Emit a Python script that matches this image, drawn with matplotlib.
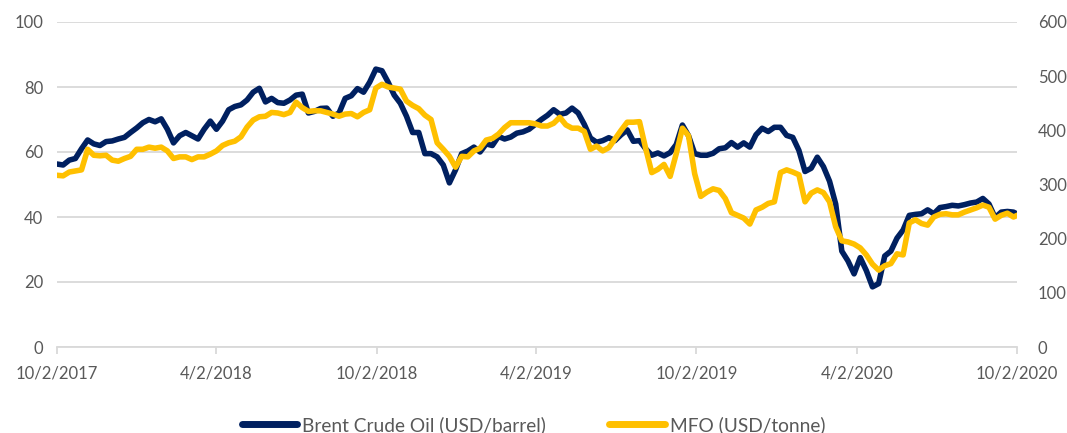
import matplotlib
matplotlib.use("Agg")
import matplotlib.pyplot as plt
import matplotlib.dates as mdates
from matplotlib.lines import Line2D
import pandas as pd

start_date = "2017-10-02"

brent = [56.3, 56, 57.5, 58, 61, 63.7, 62.5, 62, 63.2, 63.4,
         64, 64.5, 66, 67.4, 69, 70, 69.3, 70.2, 67, 62.8,
         65, 66, 65, 64, 67, 69.5, 67, 69.5, 73, 74,
         74.5, 76, 78.4, 79.6, 75.4, 76.5, 75.2, 75, 76, 77.5,
         77.8, 72, 72.5, 73.4, 73.5, 71, 72, 76.5, 77.3, 79.5,
         78.4, 81.5, 85.5, 85, 81.5, 77.5, 75, 71, 66, 66,
         59.5, 59.5, 58.5, 56, 50.5, 54.5, 59.5, 60.3, 61.5, 60,
         62.5, 62, 64.8, 64, 64.6, 65.8, 66.2, 67, 68.5, 70,
         71.3, 73, 71.6, 72, 73.5, 72, 68.5, 64.3, 63, 63.5,
         64.4, 63.5, 65.3, 66.8, 63.3, 63.5, 61, 59, 59.7, 58.8,
         59.8, 62.3, 68.3, 65, 59.5, 59, 59, 59.6, 61, 61.3,
         62.9, 61.5, 62.8, 61.5, 65.3, 67.3, 66.3, 67.6, 67.6, 65.1,
         64.5, 60.5, 54, 55, 58.4, 55.5, 51, 44, 29.5, 26.5,
         22.5, 27.5, 23.5, 18.5, 19.5, 28, 29.5, 33.5, 36, 40.5,
         40.8, 41, 42.2, 41, 42.9, 43.2, 43.6, 43.4, 43.8, 44.3,
         44.6, 45.7, 44, 39.8, 41.5, 41.7, 41.5, 40.5]

mfo = [317, 316, 323, 325, 327, 365, 354, 353, 354, 345,
       343, 348, 352, 365, 365, 369, 367, 369, 362, 348,
       351, 351, 346, 351, 351, 356, 362, 372, 377, 380,
       388, 406, 419, 425, 426, 433, 432, 429, 433, 452,
       442, 435, 436, 436, 433, 430, 426, 430, 431, 425,
       433, 438, 478, 485, 480, 478, 476, 454, 446, 440,
       428, 420, 377, 365, 352, 332, 352, 351, 362, 367,
       382, 385, 393, 405, 414, 414, 414, 414, 412, 408,
       408, 413, 424, 410, 404, 404, 398, 365, 371, 362,
       368, 384, 400, 415, 415, 416, 367, 322, 328, 337,
       315, 357, 404, 390, 320, 278, 286, 292, 289, 274,
       248, 243, 238, 227, 253, 258, 265, 268, 322, 327,
       323, 318, 268, 284, 290, 285, 268, 222, 196, 194,
       190, 183, 170, 153, 142, 150, 154, 172, 170, 229,
       235, 228, 225, 240, 245, 246, 244, 244, 249, 253,
       257, 262, 258, 236, 243, 247, 240, 245]

tick_dates = ["2017-10-02", "2018-04-02", "2018-10-02", "2019-04-02",
              "2019-10-02", "2020-04-02", "2020-10-02"]
tick_labels = ["10/2/2017", "4/2/2018", "10/2/2018", "4/2/2019",
               "10/2/2019", "4/2/2020", "10/2/2020"]
left_ticks = [0, 20, 40, 60, 80, 100]
right_ticks = [0, 100, 200, 300, 400, 500, 600]
series_names = ["Brent Crude Oil (USD/barrel)", "MFO (USD/tonne)"]

dates = pd.date_range(start_date, periods=len(brent), freq="7D")

NAVY = "#002060"
GOLD = "#FFC000"
GRAY = "#595959"
GRID = "#D9D9D9"
plt.rcParams["font.family"] = ["Lato", "DejaVu Sans"]

fig = plt.figure(figsize=(10.67, 4.33), dpi=100)
ax = fig.add_axes([57 / 1067, 1 - 347 / 433, 960 / 1067, 325 / 433])
ax2 = ax.twinx()

ax.plot(dates, brent, color=NAVY, lw=4.0, solid_joinstyle="round", solid_capstyle="round", zorder=3)
ax2.plot(dates, mfo, color=GOLD, lw=4.0, solid_joinstyle="round", solid_capstyle="round", zorder=3)

td = pd.to_datetime(tick_dates)
ax.set_xlim(td[0], td[-1])
ax.set_ylim(0, 100)
ax2.set_ylim(0, 600)
ax.set_xticks(td)
ax.set_xticklabels(tick_labels)
ax.set_yticks(left_ticks)
ax2.set_yticks(right_ticks)

ax.grid(axis="y", color=GRID, lw=1.3)
ax.set_axisbelow(True)
for a in (ax, ax2):
    for s in a.spines.values():
        s.set_visible(False)
ax.spines["bottom"].set_visible(True)
ax.spines["bottom"].set_color(GRID)
ax.spines["bottom"].set_linewidth(1.3)

ax.tick_params(axis="x", colors=GRID, length=5, width=1.3, direction="out", pad=8,
               labelcolor=GRAY, labelsize=12)
ax.tick_params(axis="y", length=0, pad=10, labelcolor=GRAY, labelsize=12)
ax2.tick_params(axis="y", length=0, pad=15, labelcolor=GRAY, labelsize=12)

handles = [Line2D([0], [0], color=NAVY, lw=5, solid_capstyle="round"),
           Line2D([0], [0], color=GOLD, lw=5, solid_capstyle="round")]
fig.legend(handles, series_names, loc="center", bbox_to_anchor=(0.5, 1 - 425 / 433),
           ncol=2, frameon=False, fontsize=13.8, labelcolor=GRAY, handlelength=2.9,
           handletextpad=0.25, columnspacing=3.3)

fig.savefig("out.png", dpi=100)
